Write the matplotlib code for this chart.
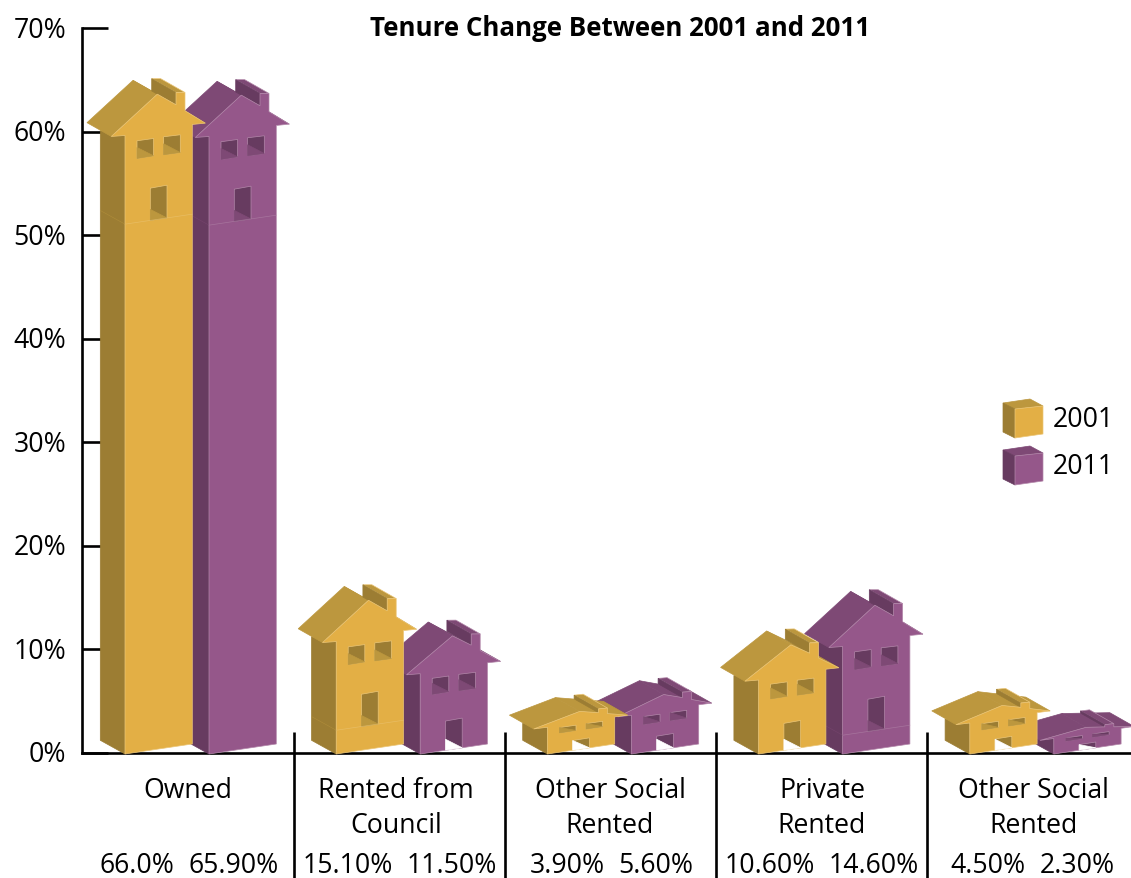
import matplotlib
matplotlib.use("Agg")
import matplotlib.pyplot as plt
from matplotlib.patches import Polygon
from matplotlib.transforms import ScaledTranslation

# ---------------- data ----------------
categories = ["Owned", "Rented from\nCouncil", "Other Social\nRented", "Private\nRented", "Other Social\nRented"]
values_2001 = [66.0, 15.1, 3.9, 10.6, 4.5]
values_2011 = [65.9, 11.5, 5.6, 14.6, 2.3]
labels_2001 = ["66.0%", "15.10%", "3.90%", "10.60%", "4.50%"]
labels_2011 = ["65.90%", "11.50%", "5.60%", "14.60%", "2.30%"]
y_ticks = [0, 10, 20, 30, 40, 50, 60, 70]
series_names = ["2001", "2011"]
title = "Tenure Change Between 2001 and 2011"

# colours: front wall, side wall, roof, thin edge
gold = ("#E3AF45", "#9C7D33", "#BC973E", "#EBC678")
purple = ("#95578A", "#673B60", "#7E4975", "#B388AA")

# ---------------- layout (pixels) ----------------
W, H = 1131, 879
x_left, y_zero, y_top = 82, 754, 29
px_per_pct = (y_zero - y_top) / 70.0

first_house = 125      # front corner of the first 2001 house
group_step = 211.2
pair_step = 84
separators = [293.5, 504.5, 716, 927]
category_x = [188, 396, 610, 822, 1033]
value_x = [181, 400, 611.5, 822, 1032.5]

SLOPE = 0.149          # rise of the front wall's bottom edge
DEPTH = (-24.3, 13.8)  # depth direction of the houses
FULL = 144.0           # full height of the house without base


def py(pixel_y):
    return (y_zero - pixel_y) / px_per_pct


plt.rcParams["font.family"] = ["Open Sans", "DejaVu Sans"]
label_font = 19.2

fig = plt.figure(figsize=(W / 100, H / 100), dpi=100)
ax = fig.add_axes([x_left / W, (H - y_zero) / H, 1 - x_left / W, (y_zero - y_top) / H])
ax.set_xlim(x_left, W)
ax.set_ylim(0, 70)
ax.patch.set_visible(False)
ax.set_axisbelow(True)
for s in ["top", "right"]:
    ax.spines[s].set_visible(False)
for s in ["left", "bottom"]:
    ax.spines[s].set_linewidth(1.9)
    ax.spines[s].set_zorder(1.5)
ax.set_yticks(y_ticks)
ax.set_yticklabels([f"{t}%" for t in y_ticks], fontsize=label_font)
ax.set_xticks([])
ax.tick_params(axis="y", direction="in", length=19, width=1.9, pad=11.5)
for lab in ax.get_yticklabels():
    lab.set_transform(lab.get_transform() + ScaledTranslation(0, 2 / 100, fig.dpi_scale_trans))


def add_poly(points, color, edge=None, z=3):
    pts = [(x, y / px_per_pct) for x, y in points]
    ax.add_patch(Polygon(pts, closed=True, facecolor=color, edgecolor=edge or color,
                         linewidth=0.5, zorder=z, clip_on=False))


def draw_house(x0, value, colors, z):
    front_c, side_c, roof_c, edge_c = colors
    # the total height follows the value, the part above FULL becomes a plain base
    total = (0.96 * value + 1.7) * px_per_pct
    if total > FULL:
        k, plinth = 1.0, total - FULL
    else:
        k, plinth = (total - 18.6) / 125.2, 0.0

    def fr(x, y):
        base = SLOPE * x
        return (x0 + x, base + (y - base) * k + plinth - 1)

    def bk(p):
        return (p[0] + DEPTH[0], p[1] + DEPTH[1])

    # side wall
    corner_top = fr(0, 88.7)
    eave = fr(-13.7, 87.7)
    add_poly([(x0, -1), (x0 - 24.7, 12.7), (x0 - 24.7, eave[1] + 5.7), corner_top], side_c, z=z)

    # roof planes, the right one only shows on the low houses
    apex = fr(32.3, 130)
    eave_r = fr(80.3, 101)
    add_poly([apex, bk(apex), bk(eave_r), eave_r], roof_c, z=z)
    add_poly([eave, bk(eave), bk(apex), apex], roof_c, z=z)

    # chimney behind the front wall
    ch_a, ch_b, ch_c = fr(51, 131.7), fr(60, 131.7), fr(51, 119.4)
    add_poly([ch_a, ch_b, bk(ch_b), bk(ch_a)], roof_c, edge=edge_c, z=z)
    add_poly([ch_a, ch_c, bk(ch_c), bk(ch_a)], side_c, z=z)

    front = [(x0, -1), (x0 + 67.3, 9), fr(67.3, 99.7), eave_r, fr(60, 113.4),
             fr(60, 131.7), ch_a, ch_c, apex, eave, corner_top]
    add_poly(front, front_c, edge=edge_c, z=z)

    # windows
    for xa, xb, low_a, low_b, top_a, top_b in [(12, 28.6, 65.7, 68.4, 83.4, 85.7),
                                               (38.6, 55.3, 69.4, 71.7, 87.4, 89.4)]:
        ll, lr, ur, ul = fr(xa, low_a), fr(xb, low_b), fr(xb, top_b), fr(xa, top_a)
        inner = (ll[0], min(ll[1] + 11, ul[1]))
        add_poly([ll, lr, ur, ul], side_c, edge=edge_c, z=z)
        add_poly([ll, lr, inner], roof_c, z=z)

    # door, an open gap at the ground when the house has no base
    ll, lr = fr(25.3, SLOPE * 25.3), fr(42, SLOPE * 42)
    ur, ul = fr(42, 39), fr(25.3, 36)
    inner = (ll[0], min(ll[1] + 11, ul[1]))
    add_poly([ll, lr, ur, ul], side_c, edge=edge_c, z=z)
    add_poly([ll, lr, inner], roof_c if plinth > 0 else "white", z=z)

    # faint seam above the base
    if plinth > 0:
        ax.plot([x0, x0 + 67.3], [(plinth - 1) / px_per_pct, (plinth + 9) / px_per_pct],
                color=edge_c, lw=0.5, alpha=0.6, zorder=z, clip_on=False)
        ax.plot([x0 - 24.7, x0], [(plinth + 12.7) / px_per_pct, (plinth - 1) / px_per_pct],
                color=roof_c, lw=0.4, alpha=0.6, zorder=z, clip_on=False)


# 2011 goes behind 2001 in every pair, groups left to right
for i in range(len(categories)):
    x_front = first_house + group_step * i
    base_z = 3 + i
    draw_house(x_front + pair_step, values_2011[i], purple, base_z)
    draw_house(x_front, values_2001[i], gold, base_z + 0.5)

# separators between the groups
ax.vlines(separators, py(733), py(879), color="black", lw=1.9, clip_on=False, zorder=2)

# category names and value labels under the axis
for i, name in enumerate(categories):
    lines = name.split("\n")
    for j, line in enumerate(lines):
        ax.text(category_x[i], py(791 + 35 * j), line, ha="center", va="center",
                fontsize=label_font, clip_on=False)
    ax.text(value_x[i] - 7, py(866), labels_2001[i], ha="right", va="center", fontsize=label_font)
    ax.text(value_x[i] + 7, py(866), labels_2011[i], ha="left", va="center", fontsize=label_font)

ax.text(620, py(29), title, ha="center", va="center", fontsize=18.6, fontweight="bold")

# legend cubes
for name, colors, shift in zip(series_names, [gold, purple], [0, 47]):
    front_c, side_c, roof_c, edge_c = colors
    add_poly([(1003, 754 - (404 + shift)), (1030, 754 - (400 + shift)), (1043, 754 - (407 + shift)),
              (1015, 754 - (410 + shift))], roof_c, z=4)
    add_poly([(1003, 754 - (404 + shift)), (1015, 754 - (410 + shift)), (1015, 754 - (439 + shift)),
              (1003, 754 - (433 + shift))], side_c, z=4)
    add_poly([(1015, 754 - (410 + shift)), (1043, 754 - (407 + shift)), (1043, 754 - (435 + shift)),
              (1015, 754 - (439 + shift))], front_c, edge=edge_c, z=4)
    ax.text(1053, py(420 + shift), name, ha="left", va="center", fontsize=label_font)

fig.savefig("out.png", dpi=100, facecolor="white")
